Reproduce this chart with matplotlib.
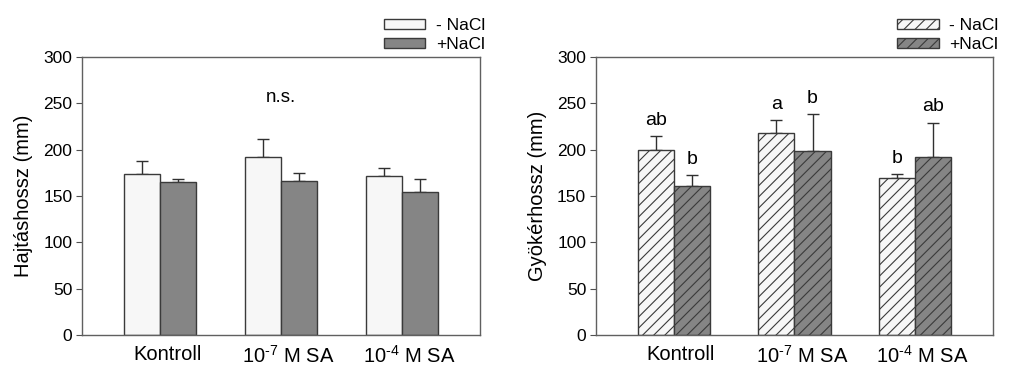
import matplotlib
matplotlib.use("Agg")
import matplotlib.pyplot as plt
import numpy as np

plt.rcParams['font.family'] = ['Liberation Sans', 'DejaVu Sans']
plt.rcParams['mathtext.fontset'] = 'custom'
plt.rcParams['mathtext.rm'] = 'Liberation Sans'
plt.rcParams['mathtext.it'] = 'Liberation Sans'
plt.rcParams['hatch.linewidth'] = 0.8
plt.rcParams['hatch.color'] = '#202020'

# adatok
csoportok = ['Kontroll', r'10$^{\text{-}7}$ M SA', r'10$^{\text{-}4}$ M SA']
sorozatok = ['- NaCl', '+NaCl']

hajtas_kontroll = [174, 192, 172]      # - NaCl
hajtas_nacl = [165, 166.5, 154]        # +NaCl
hajtas_kontroll_se = [14, 20, 8.5]
hajtas_nacl_se = [3, 8.5, 14]

gyoker_kontroll = [199.6, 217.6, 169.7]
gyoker_nacl = [160.4, 199, 191.7]
gyoker_kontroll_se = [15, 14.5, 3.5]
gyoker_nacl_se = [12, 39, 37.5]
gyoker_betuk_kontroll = ['ab', 'a', 'b']
gyoker_betuk_nacl = ['b', 'b', 'ab']

feher = '#f7f7f7'
szurke = '#858585'
el = '#3a3a3a'

fig = plt.figure(figsize=(10.24, 3.89), dpi=100)
ax1 = fig.add_axes([0.0801, 0.1388, 0.3887, 0.7147])
ax2 = fig.add_axes([0.582, 0.1388, 0.3877, 0.7147])

x = np.arange(len(csoportok))
w = 0.30


def panel(ax, y1, y2, e1, e2, hatch, ylabel):
    b1 = ax.bar(x - w / 2, y1, w, color=feher, edgecolor=el, linewidth=1,
                hatch=hatch, label=sorozatok[0], zorder=2)
    b2 = ax.bar(x + w / 2, y2, w, color=szurke, edgecolor=el, linewidth=1,
                hatch=hatch, label=sorozatok[1], zorder=2)
    ax.errorbar(x - w / 2, y1, yerr=[[0] * len(y1), e1], fmt='none',
                ecolor='#303030', elinewidth=1, capsize=4, capthick=1, zorder=1)
    ax.errorbar(x + w / 2, y2, yerr=[[0] * len(y2), e2], fmt='none',
                ecolor='#303030', elinewidth=1, capsize=4, capthick=1, zorder=1)
    ax.set_ylim(0, 300)
    ax.set_xlim(-0.645, 2.645)
    ax.set_yticks(range(0, 301, 50))
    ax.set_xticks(x + 0.06)
    ax.set_xticklabels(csoportok, fontsize=14.5)
    ax.tick_params(axis='x', length=0, pad=7)
    ax.tick_params(axis='y', direction='out', length=4, labelsize=12.5,
                   color='#505050', pad=3)
    for s in ax.spines.values():
        s.set_color('#606060')
        s.set_linewidth(1)
    ax.set_ylabel(ylabel, fontsize=14.5, labelpad=7)
    return b1, b2


panel(ax1, hajtas_kontroll, hajtas_nacl, hajtas_kontroll_se, hajtas_nacl_se,
      None, 'Hajtáshossz (mm)')
ax1.text(x[1], 256, 'n.s.', ha='center', va='center', fontsize=13.5)
ax1.legend(loc='lower left', bbox_to_anchor=(0.745, 1.0), frameon=False,
           fontsize=12.5, handlelength=2.4, handleheight=0.5, labelspacing=0.2,
           handletextpad=0.6, borderpad=0.1, borderaxespad=0.2)

panel(ax2, gyoker_kontroll, gyoker_nacl, gyoker_kontroll_se, gyoker_nacl_se,
      '///', 'Gyökérhossz (mm)')
for i in range(len(csoportok)):
    ax2.text(x[i] - w / 2, gyoker_kontroll[i] + gyoker_kontroll_se[i] + 17,
             gyoker_betuk_kontroll[i], ha='center', va='center', fontsize=14)
    ax2.text(x[i] + w / 2, gyoker_nacl[i] + gyoker_nacl_se[i] + 17,
             gyoker_betuk_nacl[i], ha='center', va='center', fontsize=14)
ax2.legend(loc='lower left', bbox_to_anchor=(0.745, 1.0), frameon=False,
           fontsize=12.5, handlelength=2.4, handleheight=0.5, labelspacing=0.2,
           handletextpad=0.6, borderpad=0.1, borderaxespad=0.2)

fig.savefig('out.png', dpi=100)
